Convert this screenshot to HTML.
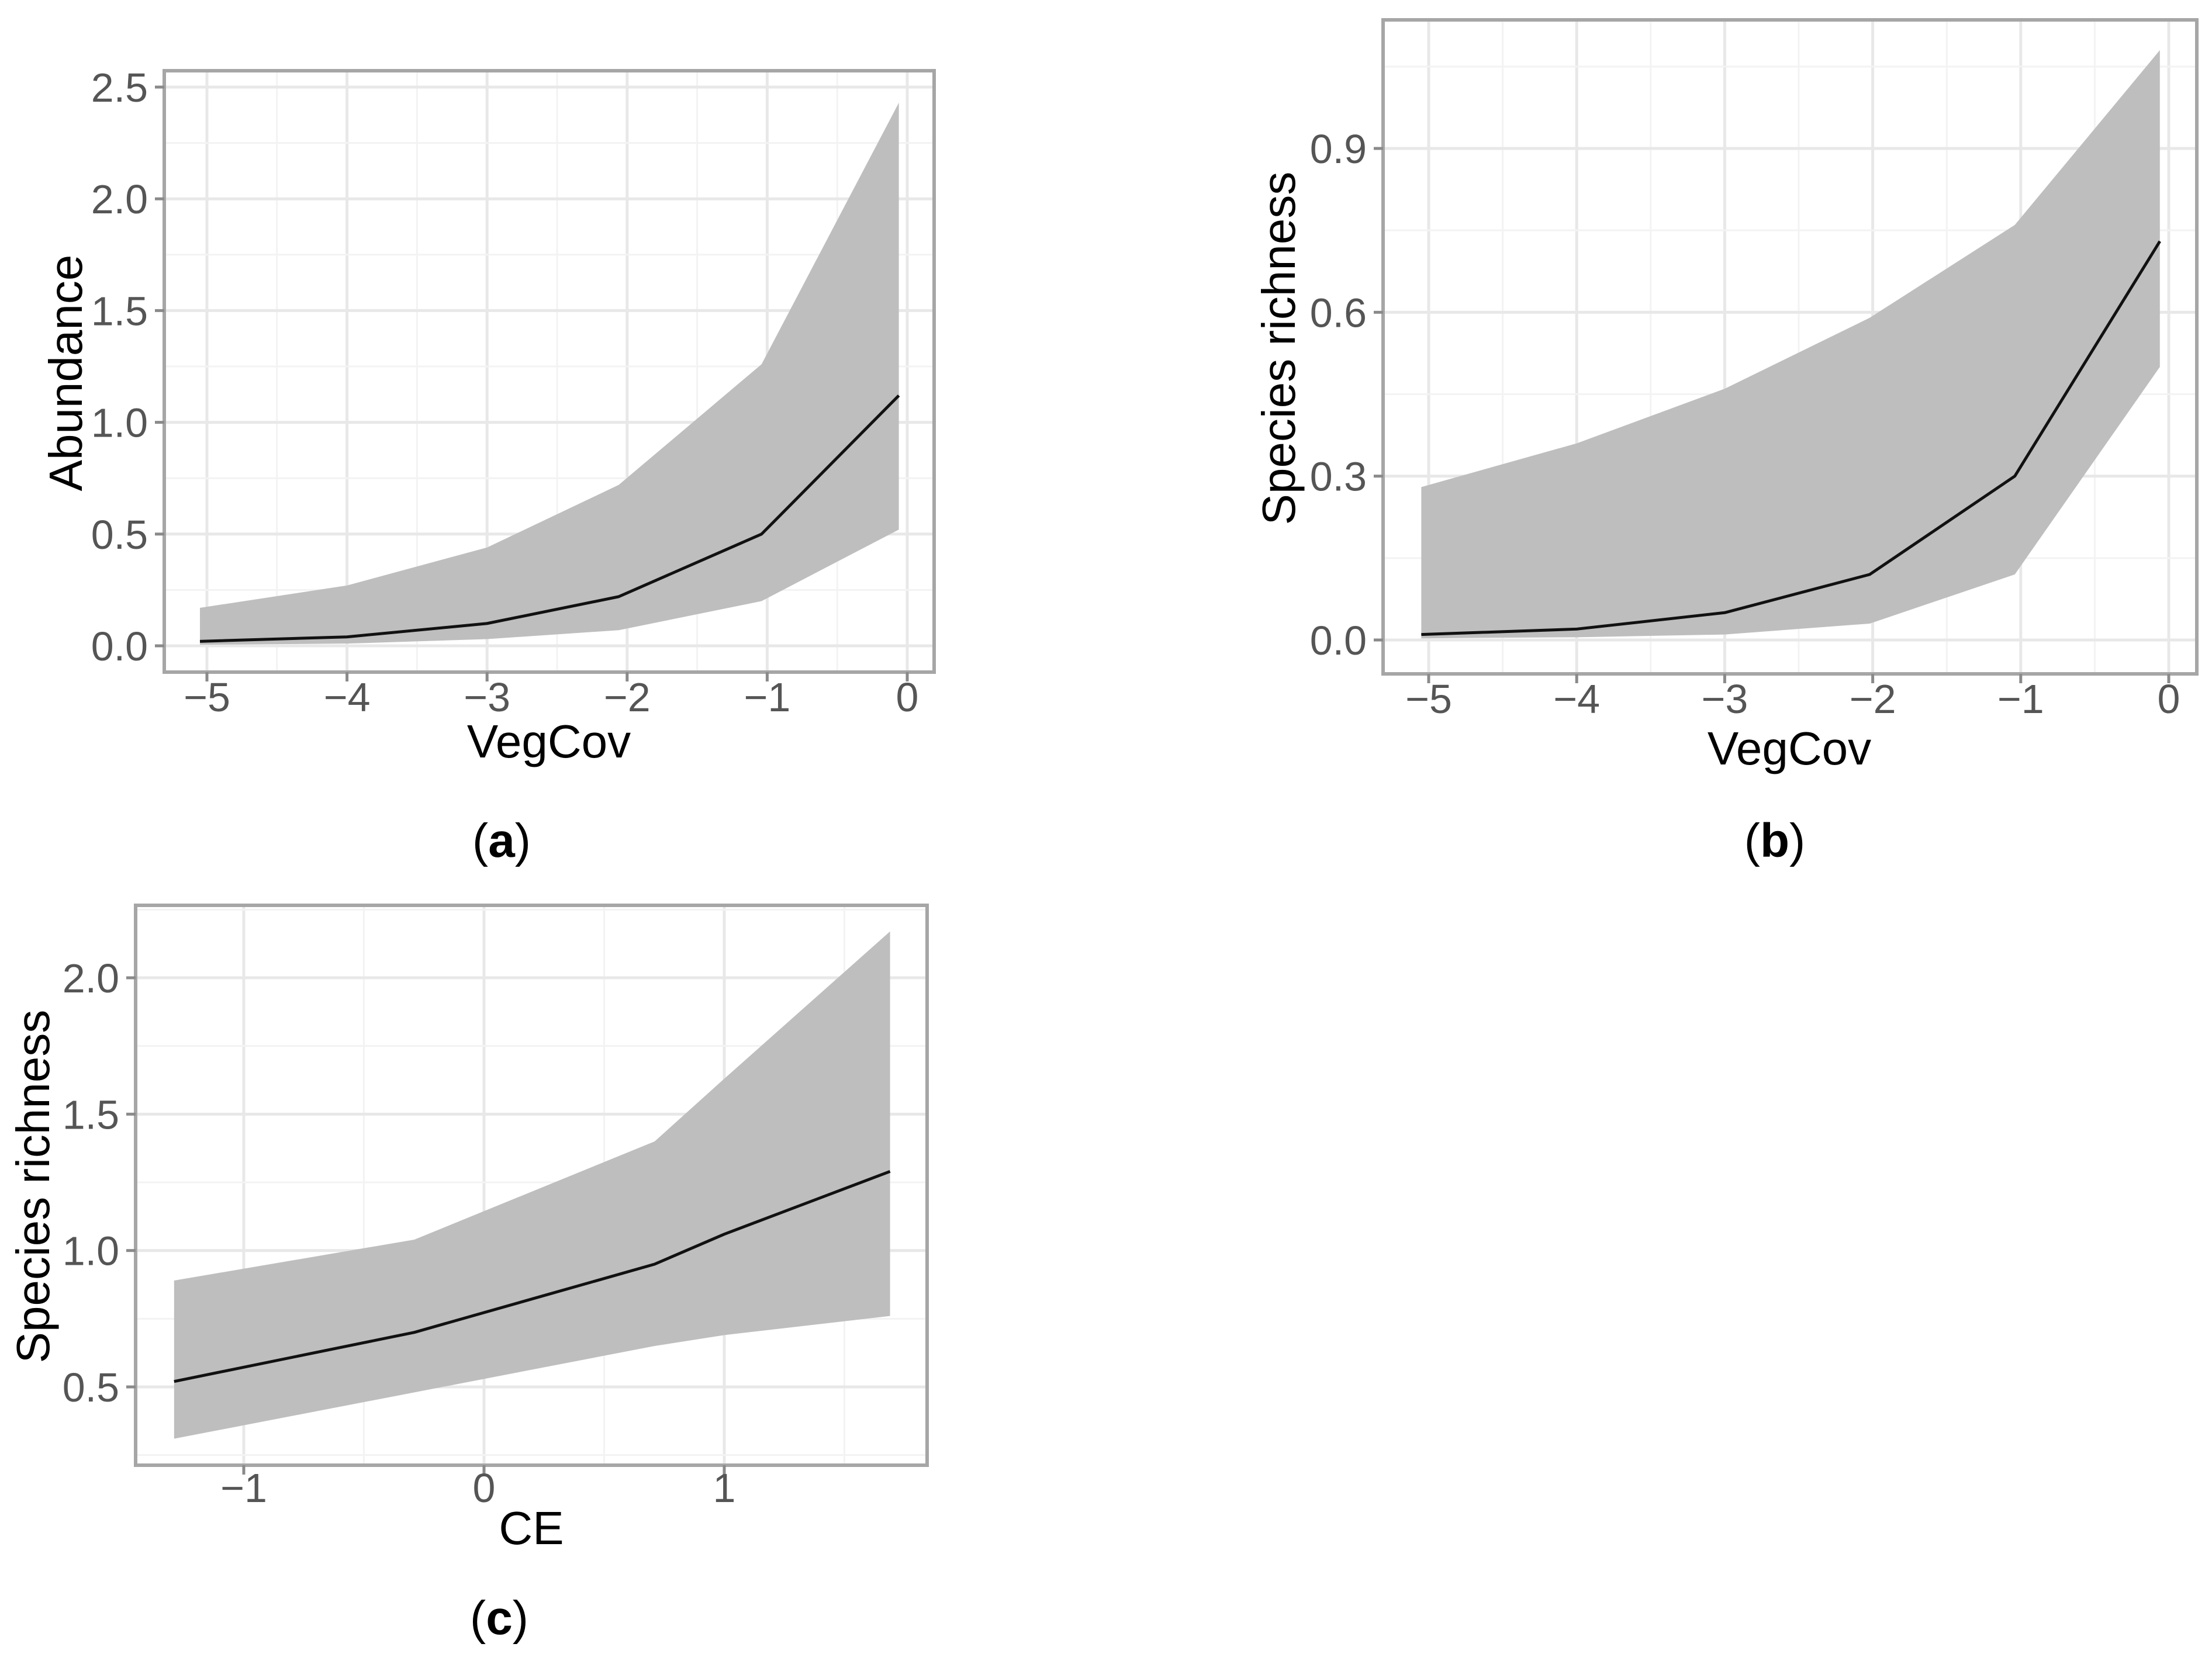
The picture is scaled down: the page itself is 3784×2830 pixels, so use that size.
<!DOCTYPE html>
<html><head><meta charset="utf-8"><style>
html,body{margin:0;padding:0;background:#fff}
svg{display:block}
text{font-family:"Liberation Sans",sans-serif}
</style></head><body>
<svg id="fig" width="3784" height="2830" viewBox="0 0 3784 2830" xmlns="http://www.w3.org/2000/svg"></svg>
<script>
// Panel (a) data
const aX = [-5.05, -4.0, -3.0, -2.06, -1.04, -0.06];
const aMean = [0.02, 0.04, 0.10, 0.22, 0.50, 1.12];
const aUpper = [0.17, 0.27, 0.44, 0.72, 1.26, 2.43];
const aLower = [0.005, 0.01, 0.03, 0.07, 0.20, 0.52];
const aXTicks = [-5, -4, -3, -2, -1, 0];
const aYTicks = [0, 0.5, 1.0, 1.5, 2.0, 2.5];
const aYLabels = ["0.0", "0.5", "1.0", "1.5", "2.0", "2.5"];
// Panel (b) data
const bX = [-5.05, -4.0, -3.0, -2.02, -1.04, -0.06];
const bMean = [0.01, 0.02, 0.05, 0.12, 0.30, 0.73];
const bUpper = [0.28, 0.36, 0.46, 0.59, 0.76, 1.08];
const bLower = [0.003, 0.005, 0.01, 0.03, 0.12, 0.50];
const bXTicks = [-5, -4, -3, -2, -1, 0];
const bYTicks = [0, 0.3, 0.6, 0.9];
const bYLabels = ["0.0", "0.3", "0.6", "0.9"];
// Panel (c) data
const cX = [-1.29, -0.29, 0.71, 1.0, 1.69];
const cMean = [0.52, 0.70, 0.95, 1.06, 1.29];
const cUpper = [0.89, 1.04, 1.40, 1.63, 2.17];
const cLower = [0.31, 0.48, 0.65, 0.69, 0.76];
const cXTicks = [-1, 0, 1];
const cYTicks = [0.5, 1.0, 1.5, 2.0];
const cYLabels = ["0.5", "1.0", "1.5", "2.0"];

const NS = "http://www.w3.org/2000/svg";
const svg = document.getElementById('fig');
function mk(tag, attrs, parent, txt){
  const e = document.createElementNS(NS, tag);
  for (const k in attrs) e.setAttribute(k, attrs[k]);
  if (txt !== undefined) e.textContent = txt;
  (parent || svg).appendChild(e);
  return e;
}
function fmtX(v){ return v < 0 ? "\u2212" + Math.abs(v) : String(v); }

function panel(cfg){
  const g = mk('g', {});
  
  
  const sx = v => cfg.xp0 + (v - cfg.xv0) * (cfg.xp1 - cfg.xp0) / (cfg.xv1 - cfg.xv0);
  const sy = v => cfg.yp0 + (v - cfg.yv0) * (cfg.yp1 - cfg.yp0) / (cfg.yv1 - cfg.yv0);
  const L = cfg.rect[0], T = cfg.rect[1], R = cfg.rect[2], B = cfg.rect[3];
  const bg = mk('rect', {x:L, y:T, width:R-L, height:B-T, fill:'#fff'}, g);
  
  
  const xt = cfg.xTicks, yt = cfg.yTicks;
  const dx = xt[1]-xt[0], dy = yt[1]-yt[0];
  for (let v = xt[0]-dx/2; sx(v) < R; v += dx/2){
    if (sx(v) <= L) continue;
    const major = Math.abs((v - xt[0]) / dx - Math.round((v - xt[0]) / dx)) < 1e-6;
    const gl = mk('line', {x1:sx(v), x2:sx(v), y1:T, y2:B, stroke: major ? '#e8e8e8' : '#f3f3f3', 'stroke-width': major ? 5 : 3}, g);
    
    
  }
  for (let v = yt[0]-dy; sy(v) > T; v += dy/2){
    if (sy(v) >= B) continue;
    const major = Math.abs((v - yt[0]) / dy - Math.round((v - yt[0]) / dy)) < 1e-6;
    const gl = mk('line', {y1:sy(v), y2:sy(v), x1:L, x2:R, stroke: major ? '#e8e8e8' : '#f3f3f3', 'stroke-width': major ? 5 : 3}, g);
    
    
  }
  let pts = [];
  for (let i = 0; i < cfg.x.length; i++) pts.push(sx(cfg.x[i]) + ',' + sy(cfg.upper[i]));
  for (let i = cfg.x.length-1; i >= 0; i--) pts.push(sx(cfg.x[i]) + ',' + sy(cfg.lower[i]));
  const rib = mk('polygon', {points: pts.join(' '), fill:'#bebebe'}, g);
  
  
  const lp = cfg.x.map((v,i) => sx(v) + ',' + sy(cfg.mean[i])).join(' ');
  const ln = mk('polyline', {points: lp, fill:'none', stroke:'#111', 'stroke-width':5, 'stroke-linejoin':'round'}, g);
  
  
  const bd = mk('rect', {x:L, y:T, width:R-L, height:B-T, fill:'none', stroke:'#a6a6a6', 'stroke-width':6}, g);
  
  
  xt.forEach(v => {
    const tk = mk('line', {x1:sx(v), x2:sx(v), y1:B, y2:B+16, stroke:'#8a8a8a', 'stroke-width':5}, g);
    
    
    const tl = mk('text', {x:sx(v), y:cfg.xLabY, 'font-size':70, fill:'#555', 'text-anchor':'middle'}, g, fmtX(v));
    
    
  });
  yt.forEach((v,i) => {
    const tk = mk('line', {x1:L-16, x2:L, y1:sy(v), y2:sy(v), stroke:'#8a8a8a', 'stroke-width':5}, g);
    
    
    const tl = mk('text', {x:L-28, y:sy(v)+25, 'font-size':70, fill:'#555', 'text-anchor':'end'}, g, cfg.yLabels[i]);
    
    
  });
  const xtit = mk('text', {x:cfg.xTitle[0], y:cfg.xTitle[1], 'font-size':80, fill:'#000', 'text-anchor':'middle'}, g, cfg.xName);
  
  
  const ytit = mk('text', {x:0, y:0, 'font-size':80, fill:'#000', 'text-anchor':'middle', transform:'translate('+cfg.yTitle[0]+','+cfg.yTitle[1]+') rotate(-90)'}, g, cfg.yName);
  
  
  const cap = mk('text', {x:cfg.cap[0], y:cfg.cap[1], 'font-size':82, fill:'#000', 'text-anchor':'middle', 'font-family':'Liberation Serif, serif'}, g);
  mk('tspan', {}, cap, '(');
  mk('tspan', {'font-weight':'bold'}, cap, cfg.letter);
  mk('tspan', {}, cap, ')');
  
  
}

panel({name:'panel-a-abundance', rect:[281,121,1598,1150], xv0:-5, xp0:354, xv1:0, xp1:1552,
  yv0:0, yp0:1105, yv1:2.5, yp1:149, xTicks:aXTicks, yTicks:aYTicks, yLabels:aYLabels,
  x:aX, mean:aMean, upper:aUpper, lower:aLower, xLabY:1217, xTitle:[939,1296], xName:'VegCov',
  yTitle:[140,638], yName:'Abundance', cap:[858,1466], letter:'a'});
panel({name:'panel-b-species-richness', rect:[2366,34,3758,1153], xv0:-5, xp0:2444, xv1:0, xp1:3710,
  yv0:0, yp0:1095, yv1:0.9, yp1:254, xTicks:bXTicks, yTicks:bYTicks, yLabels:bYLabels,
  x:bX, mean:bMean, upper:bUpper, lower:bLower, xLabY:1220, xTitle:[3061,1308], xName:'VegCov',
  yTitle:[2215,596], yName:'Species richness', cap:[3036,1466], letter:'b'});
panel({name:'panel-c-species-richness-ce', rect:[232,1549,1586,2507], xv0:-1, xp0:417, xv1:1, xp1:1239,
  yv0:0.5, yp0:2373, yv1:2.0, yp1:1673, xTicks:cXTicks, yTicks:cYTicks, yLabels:cYLabels,
  x:cX, mean:cMean, upper:cUpper, lower:cLower, xLabY:2570, xTitle:[909,2642], xName:'CE',
  yTitle:[84,2030], yName:'Species richness', cap:[854,2796], letter:'c'});
</script>
</body></html>
